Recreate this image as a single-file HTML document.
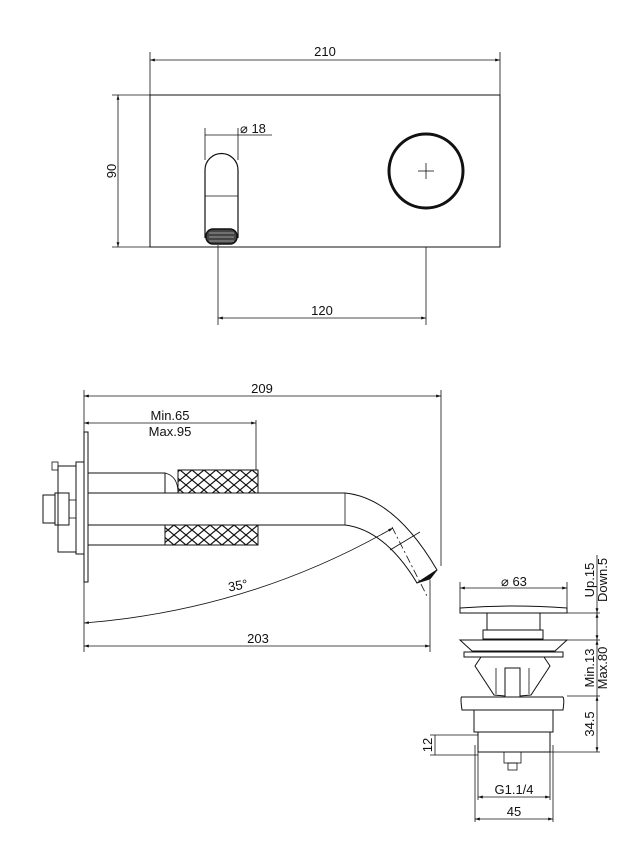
<!DOCTYPE html>
<html><head><style>
html,body{margin:0;padding:0;background:#fff;}
svg{display:block;}
text{font-family:"Liberation Sans",sans-serif;font-size:13px;fill:#111;}
</style></head><body>
<svg width="634" height="849" viewBox="0 0 634 849" xmlns="http://www.w3.org/2000/svg">
<defs>
<marker id="a" viewBox="0 0 10 10" refX="10" refY="5" markerWidth="8" markerHeight="6" orient="auto-start-reverse"><path d="M0,2 L10,5 L0,8 z" fill="#111"/></marker>
<pattern id="k" width="12" height="10" patternUnits="userSpaceOnUse"><path d="M0,0 L12,10 M12,0 L0,10" stroke="#111" stroke-width="1.2" fill="none"/></pattern>
</defs>
<g stroke="#111" stroke-width="0.8" fill="none">
<!-- TOP VIEW -->
<line x1="150" y1="52" x2="150" y2="95"/><line x1="500" y1="52" x2="500" y2="95"/>
<line x1="150" y1="60" x2="500" y2="60" marker-start="url(#a)" marker-end="url(#a)"/>
<line x1="112" y1="95" x2="150" y2="95"/><line x1="112" y1="247" x2="150" y2="247"/>
<line x1="118" y1="95" x2="118" y2="247" marker-start="url(#a)" marker-end="url(#a)"/>
<rect x="150" y="95" width="350" height="152" stroke-width="1"/>
<path d="M205,238 L205,170 A16.5,16.5 0 0 1 238,170 L238,238" stroke-width="1.2"/>
<line x1="205" y1="196" x2="238" y2="196"/>
<rect x="206" y="229" width="31" height="15" rx="7" fill="#444" stroke-width="1.5"/>
<path d="M209,233 L234,233 M209,237 L234,237 M209,241 L234,241" stroke="#bbb"/>
<line x1="205" y1="135" x2="272" y2="135"/>
<line x1="205" y1="128" x2="205" y2="160"/><line x1="238" y1="128" x2="238" y2="160"/>
<circle cx="426" cy="171" r="37" stroke-width="3"/>
<line x1="418" y1="171" x2="434" y2="171"/><line x1="426" y1="163" x2="426" y2="179"/>
<line x1="218" y1="245" x2="218" y2="325"/><line x1="426" y1="247" x2="426" y2="325"/>
<line x1="218" y1="318" x2="426" y2="318" marker-start="url(#a)" marker-end="url(#a)"/>
<!-- SIDE VIEW -->
<line x1="84" y1="396" x2="441" y2="396" marker-start="url(#a)" marker-end="url(#a)"/>
<line x1="441" y1="390" x2="441" y2="566"/>
<line x1="84" y1="423" x2="256" y2="423" marker-start="url(#a)" marker-end="url(#a)"/>
<line x1="256" y1="420" x2="256" y2="470"/>
<line x1="84" y1="390" x2="84" y2="652"/>
<rect x="84" y="432" width="4" height="150" stroke-width="1"/>
<rect x="76" y="462" width="8" height="92" stroke-width="1"/>
<rect x="58" y="466" width="18" height="86" stroke-width="1"/>
<rect x="52" y="462" width="6" height="8"/>
<rect x="55" y="493" width="14" height="32" stroke-width="1"/>
<rect x="43" y="495" width="12" height="28" stroke-width="1"/>
<rect x="69" y="500" width="7" height="18"/>
<rect x="88" y="473" width="77" height="20" stroke-width="1"/>
<rect x="88" y="525" width="77" height="20" stroke-width="1"/>
<rect x="178" y="470" width="80" height="23" fill="url(#k)" stroke-width="1"/>
<path d="M165,473 Q178,476 178,493" />
<rect x="165" y="525" width="93" height="20" fill="url(#k)" stroke-width="1"/>
<path d="M88,493 L345,493 Q395,498 437,570 L417,583 Q385,530 345,525 L88,525" stroke-width="1"/>
<line x1="345" y1="493" x2="345" y2="525"/>
<path d="M417,583 L437,570 L430,579 Z" fill="#111"/>
<line x1="392" y1="527" x2="428" y2="598" stroke-dasharray="8,3,2,3"/>
<line x1="390" y1="550" x2="420" y2="532"/>
<path d="M84,623 Q250,610 393,528" marker-start="url(#a)" marker-end="url(#a)"/>
<line x1="430" y1="580" x2="430" y2="652"/>
<line x1="84" y1="646" x2="430" y2="646" marker-start="url(#a)" marker-end="url(#a)"/>
<!-- DRAIN -->
<line x1="460" y1="582" x2="460" y2="608"/><line x1="567" y1="582" x2="567" y2="608"/>
<line x1="460" y1="588" x2="567" y2="588" marker-start="url(#a)" marker-end="url(#a)"/>
<path d="M460,608 Q513,604 567,608 L567,613 L460,613 Z" stroke-width="1"/>
<rect x="487" y="613" width="53" height="17" stroke-width="1"/>
<rect x="483" y="630" width="60" height="9" stroke-width="1"/>
<path d="M460,640 L567,640 L555,651 L472,651 Z" stroke-width="1"/>
<rect x="464" y="652" width="99" height="5" stroke-width="1"/>
<path d="M481,657 L475,666 L494,695 L505,696 L505,668 L520,668 L520,696 L531,695 L550,666 L544,657" stroke-width="1"/>
<path d="M496,668 L496,694 M529,668 L529,694"/>
<path d="M462,697 Q460,696 462,710 L563,710 Q565,696 562,697 Z" stroke-width="1"/>
<rect x="474" y="710" width="79" height="22" stroke-width="1"/>
<rect x="478" y="732" width="72" height="20" stroke-width="1"/>
<rect x="504" y="752" width="17" height="11"/>
<rect x="508" y="763" width="9" height="7"/>
<line x1="567" y1="613" x2="600" y2="613"/><line x1="567" y1="696" x2="600" y2="696"/><line x1="550" y1="752" x2="600" y2="752"/>
<line x1="543" y1="640" x2="600" y2="640"/>
<line x1="597" y1="555" x2="597" y2="613" marker-end="url(#a)"/>
<line x1="597" y1="613" x2="597" y2="640" marker-start="url(#a)" marker-end="url(#a)"/>
<line x1="597" y1="640" x2="597" y2="696" marker-start="url(#a)"/>
<line x1="597" y1="696" x2="597" y2="752" marker-start="url(#a)" marker-end="url(#a)"/>
<line x1="430" y1="735" x2="478" y2="735"/><line x1="430" y1="755" x2="478" y2="755"/>
<line x1="435" y1="735" x2="435" y2="755"/>
<line x1="478" y1="752" x2="478" y2="800"/><line x1="550" y1="752" x2="550" y2="800"/>
<line x1="475" y1="745" x2="475" y2="822"/><line x1="553" y1="745" x2="553" y2="822"/>
<line x1="478" y1="797" x2="550" y2="797" marker-start="url(#a)" marker-end="url(#a)"/>
<line x1="475" y1="819" x2="553" y2="819" marker-start="url(#a)" marker-end="url(#a)"/>
</g>
<text x="325" y="56" text-anchor="middle">210</text>
<text transform="translate(116,171) rotate(-90)" text-anchor="middle">90</text>
<text x="240" y="133">⌀ 18</text>
<text x="322" y="315" text-anchor="middle">120</text>
<text x="262" y="393" text-anchor="middle">209</text>
<text x="170" y="420" text-anchor="middle">Min.65</text>
<text x="170" y="436" text-anchor="middle">Max.95</text>
<text x="228" y="590" transform="rotate(-10 237 585)">35°</text>
<text x="258" y="643" text-anchor="middle">203</text>
<text x="501" y="586">⌀ 63</text>
<text transform="translate(594,580) rotate(-90)" text-anchor="middle">Up.15</text>
<text transform="translate(607,580) rotate(-90)" text-anchor="middle">Down.5</text>
<text transform="translate(594,668) rotate(-90)" text-anchor="middle">Min.13</text>
<text transform="translate(607,668) rotate(-90)" text-anchor="middle">Max.80</text>
<text transform="translate(594,724) rotate(-90)" text-anchor="middle">34.5</text>
<text transform="translate(432,745) rotate(-90)" text-anchor="middle">12</text>
<text x="514" y="794" text-anchor="middle">G1.1/4</text>
<text x="514" y="816" text-anchor="middle">45</text>
</svg>
</body></html>
